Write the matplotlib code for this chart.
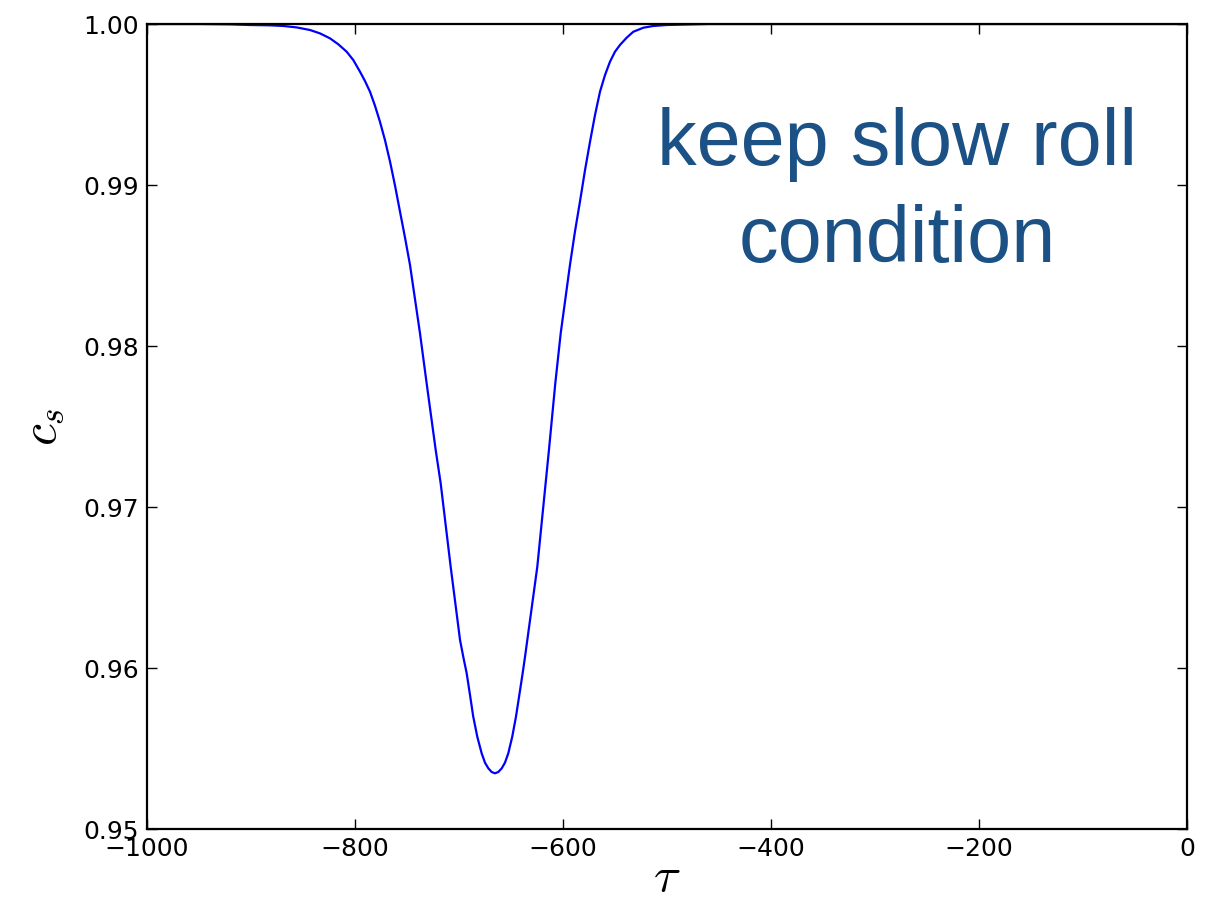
import matplotlib
matplotlib.use("Agg")
import matplotlib.pyplot as plt

plt.rcParams['mathtext.fontset'] = 'cm'

# values
tau = [-1000, -950, -920, -901, -881.7, -868.9, -856.1, -843.3, -833.7, -824.0,
       -816.0, -808.0, -801.6, -795.2, -790.4, -785.6, -780.8, -776.0, -771.2, -766.3,
       -761.5, -756.7, -751.9, -747.1, -737.5, -731.1, -722.4, -717.6, -708.0,
       -699.0, -695.9, -692.6, -689.4, -686.3, -682.4, -678.2, -675.0, -671.8, -668.6,
       -665.4, -662.2, -658.9, -655.8, -652.6, -648.8, -645.2, -642.0, -638.8, -636.5,
       -634.3, -624.7, -616.7, -613.5, -607.4, -602.2, -593.3, -588.5, -583.7,
       -578.8, -574.0, -569.2, -564.4, -559.6, -554.8, -550.0, -545.2, -538.8, -532.4,
       -522.8, -513.2, -500.3, -487.5, -460, -300, 0]
c_s = [1.0, 1.0, 0.99998, 0.99994, 0.99992, 0.99988, 0.99979, 0.99963, 0.99942, 0.99911,
       0.99874, 0.99828, 0.99776, 0.99704, 0.99646, 0.99580, 0.99493, 0.99393, 0.99280, 0.99145,
       0.98996, 0.98834, 0.98673, 0.98503, 0.98079, 0.97768, 0.97354, 0.97147, 0.96629,
       0.96174, 0.96070, 0.95967, 0.95832, 0.95698, 0.95573, 0.95470, 0.95412, 0.95377, 0.95354,
       0.95346, 0.95354, 0.95377, 0.95412, 0.95470, 0.95573, 0.95698, 0.95832, 0.95967, 0.96070,
       0.96174, 0.96629, 0.97147, 0.97354, 0.97768, 0.98079, 0.98503, 0.98710, 0.98896,
       0.99093, 0.99269, 0.99435, 0.99580, 0.99683, 0.99766, 0.99828, 0.99870, 0.99915, 0.99952,
       0.99977, 0.99988, 0.99994, 0.99996, 1.0, 1.0, 1.0]

x_ticks = [-1000, -800, -600, -400, -200, 0]
y_ticks = [0.95, 0.96, 0.97, 0.98, 0.99, 1.00]
note_lines = ["keep slow roll", "condition"]

fg = plt.figure(figsize=(12.17, 8.97), dpi=100)
ax = fg.add_axes([0.1208, 0.0758, 0.8545, 0.8974])

ax.plot(tau, c_s, '-', color='#0000ff', lw=1.6)

ax.set_xlim(-1000, 0)
ax.set_ylim(0.95, 1.0)
ax.set_xticks(x_ticks)
ax.set_yticks(y_ticks)
ax.set_yticklabels(["%.2f" % v for v in y_ticks])
ax.tick_params(direction='in', top=True, right=True, length=7, width=1,
               labelsize=18, pad=6)
for sp in ax.spines.values():
    sp.set_linewidth(1.6)

ax.set_xlabel(r'$\tau$', fontsize=36, labelpad=-6)
ax.set_ylabel(r'$c_s$', fontsize=36, labelpad=12)

# annotation, two separate lines
ax.text(0.721, 0.825, note_lines[0], transform=ax.transAxes, ha='center',
        va='baseline', fontsize=57, color='#1b5185', family='Liberation Sans')
ax.text(0.721, 0.704, note_lines[1], transform=ax.transAxes, ha='center',
        va='baseline', fontsize=57, color='#1b5185', family='Liberation Sans')

fg.savefig('out.png', dpi=100)
